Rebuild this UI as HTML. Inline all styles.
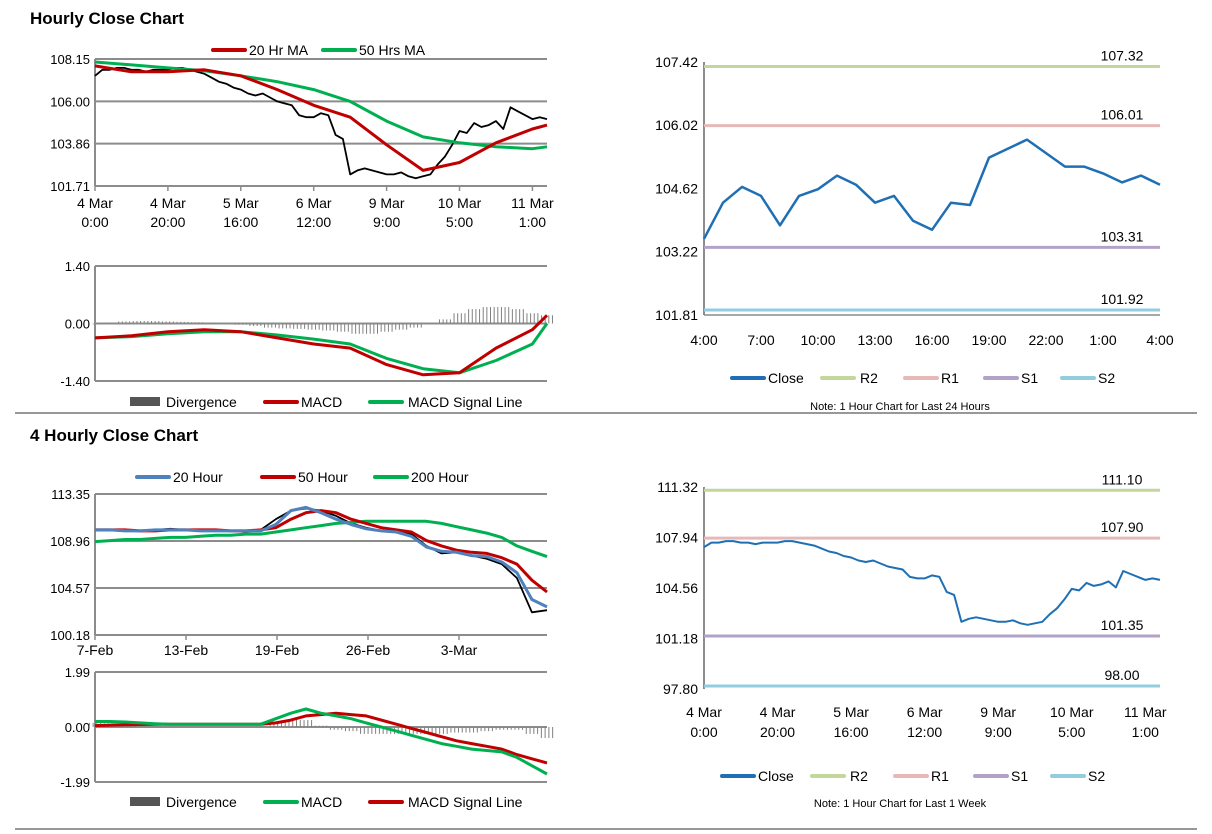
<!DOCTYPE html>
<html><head><meta charset="utf-8"><style>
body{margin:0;background:#fff;}
svg{display:block;font-family:"Liberation Sans",Arial,sans-serif;}
</style></head><body>
<svg id="s" width="1212" height="834" viewBox="0 0 1212 834">
<text x="30" y="24" font-size="17" font-weight="bold">Hourly Close Chart</text>
<text x="30" y="441" font-size="17" font-weight="bold">4 Hourly Close Chart</text>
<line x1="15" y1="413" x2="1197" y2="413" stroke="#777" stroke-width="1.5"/>
<line x1="15" y1="829" x2="1197" y2="829" stroke="#777" stroke-width="1.5"/>
</svg>
<script>
const hCloseVals=[107.3,107.6,107.6,107.7,107.7,107.6,107.6,107.5,107.6,107.6,
107.6,107.7,107.7,107.6,107.5,107.4,107.2,107.0,106.9,106.7,
106.6,106.4,106.3,106.4,106.2,106.0,105.9,105.8,105.3,105.2,
105.2,105.4,105.3,104.3,104.1,102.3,102.5,
102.6,102.5,102.4,102.3,102.3,102.4,102.2,102.1,102.2,102.3,
102.8,103.2,103.8,104.5,104.4,104.9,104.7,104.8,105.0,104.6,105.7,
105.5,105.3,105.1,105.2,105.1];
const hMa20=[107.8,107.5,107.5,107.6,107.3,106.6,105.8,105.2,103.8,102.5,102.9,103.9,104.6,104.8];
const hMa50=[108.0,107.85,107.7,107.55,107.3,107.0,106.6,106.0,105.0,104.2,103.9,103.7,103.6,103.7];
const hTickLabels=[["4 Mar","0:00"],["4 Mar","20:00"],["5 Mar","16:00"],["6 Mar","12:00"],["9 Mar","9:00"],["10 Mar","5:00"],["11 Mar","1:00"]];
const hYTicks=[108.15,106.00,103.86,101.71];
const hMacd=[-0.35,-0.3,-0.2,-0.15,-0.2,-0.35,-0.5,-0.6,-1.0,-1.25,-1.2,-0.6,-0.15,0.2];
const hSignal=[-0.35,-0.32,-0.25,-0.2,-0.2,-0.28,-0.38,-0.5,-0.85,-1.1,-1.2,-0.9,-0.5,0.0];
const hDiv=[-0.02,0.02,0.05,0.06,0.06,0.05,0.04,0.03,0.02,0.0,-0.03,-0.06,-0.1,-0.12,-0.13,-0.15,-0.17,-0.2,-0.25,-0.25,-0.2,-0.15,-0.1,-0.02,0.1,0.25,0.35,0.4,0.4,0.35,0.25,0.2];
const hMacdTicks=[1.40,0.00,-1.40];
const dCloseVals=[103.5,104.3,104.65,104.45,103.8,104.45,104.6,104.9,104.7,104.3,104.45,103.9,103.7,104.3,104.25,105.3,105.5,105.7,105.4,105.1,105.1,104.95,104.75,104.9,104.7];
const dTickLabels=["4:00","7:00","10:00","13:00","16:00","19:00","22:00","1:00","4:00"];
const dYTicks=[107.42,106.02,104.62,103.22,101.81];
const dLevels=[107.32,106.01,103.31,101.92];
const wYTicks=[111.32,107.94,104.56,101.18,97.80];
const wLevels=[111.10,107.90,101.35,98.00];
const fClose=[110.0,110.0,109.9,109.9,110.0,110.1,110.0,109.9,110.0,109.9,109.8,110.0,111.0,111.8,112.0,111.8,111.3,110.6,110.2,109.9,109.8,109.6,108.5,107.8,107.9,107.6,107.3,106.8,105.5,102.3,102.5];
const fMa20=[110.0,110.0,109.9,109.9,110.0,110.0,110.0,109.9,109.9,109.9,109.9,109.9,110.5,111.8,112.1,111.6,111.0,110.5,110.1,109.9,109.8,109.4,108.4,108.0,107.9,107.6,107.5,107.0,106.0,103.5,102.8];
const fMa50=[110.0,110.0,110.0,109.9,109.9,110.0,110.0,110.0,110.0,109.9,109.9,110.0,110.2,111.0,111.6,111.8,111.6,111.0,110.6,110.2,110.0,109.8,109.0,108.5,108.1,107.9,107.8,107.4,106.8,105.3,104.2];
const fMa200=[108.9,109.0,109.1,109.1,109.2,109.3,109.3,109.4,109.5,109.5,109.6,109.6,109.8,110.0,110.2,110.4,110.6,110.7,110.8,110.8,110.8,110.8,110.8,110.6,110.3,110.0,109.7,109.3,108.5,108.0,107.5];
const fTickLabels=["7-Feb","13-Feb","19-Feb","26-Feb","3-Mar"];
const fYTicks=[113.35,108.96,104.57,100.18];
const fMacd=[0.2,0.2,0.18,0.15,0.12,0.1,0.1,0.1,0.1,0.1,0.1,0.1,0.3,0.5,0.65,0.5,0.4,0.3,0.15,0.0,-0.15,-0.3,-0.45,-0.6,-0.7,-0.8,-0.85,-0.9,-1.1,-1.4,-1.7];
const fSignal=[0.05,0.07,0.08,0.09,0.1,0.1,0.1,0.1,0.1,0.1,0.1,0.1,0.15,0.25,0.4,0.45,0.5,0.45,0.4,0.25,0.1,-0.05,-0.2,-0.35,-0.5,-0.6,-0.7,-0.8,-1.0,-1.15,-1.3];
const fMacdTicks=[1.99,0.00,-1.99];

const S=document.getElementById('s');
const NS='http://www.w3.org/2000/svg';
function mk(tag,attrs,name,parent){
  const e=document.createElementNS(NS,tag);
  for(const k in attrs)e.setAttribute(k,attrs[k]);
  
  
  (parent||S).appendChild(e);return e;
}
function txt(x,y,s,name,opts){
  const t=mk('text',Object.assign({x:x,y:y,'font-size':13,fill:'#000'},opts||{}),name);
  t.textContent=s;return t;
}
function lin(min,max,a,b){return v=>a+(v-min)/(max-min)*(b-a);}
function poly(xs,ys,color,w,name){
  let d='';for(let i=0;i<xs.length;i++)d+=(i?'L':'M')+xs[i].toFixed(1)+' '+ys[i].toFixed(1);
  return mk('path',{d:d,fill:'none',stroke:color,'stroke-width':w,'stroke-linejoin':'round'},name);
}
function grid(x0,x1,ticks,ys,name){
  ticks.forEach(t=>{
    mk('line',{x1:x0,x2:x1,y1:ys(t),y2:ys(t),stroke:'#8c8c8c','stroke-width':2},name+'-gridline');
    txt(x0-5,ys(t)+5,t.toFixed(2),name+'-tick-label',{'text-anchor':'end'});
  });
  mk('line',{x1:x0,x2:x0,y1:ys(ticks[0]),y2:ys(ticks[ticks.length-1]),stroke:'#8c8c8c','stroke-width':2},name+'-y-axis');
}
function legend(items,y,name){
  items.forEach(it=>{
    if(it.box) mk('rect',{x:it.x,y:y-5,width:30,height:9,fill:it.c},name+'-swatch');
    else mk('line',{x1:it.x,x2:it.x+32,y1:y,y2:y,stroke:it.c,'stroke-width':4,'stroke-linecap':'round'},name+'-swatch');
    txt(it.x+(it.tx||36),y+5,it.t,name+'-entry',{'font-size':14});
  });
}
function bars(xc,v0,v,ym,step,name){
  for(let k=-1.5;k<=1.5;k+=1){
    mk('rect',{x:xc+k*step-0.5,width:1,y:Math.min(ym(v0),ym(v)),height:Math.abs(ym(v)-ym(v0)),fill:'#808080'},name);
  }
}
const RED='#c00000',GRN='#00b050',BLU='#1f6fb5',LBL='#4f81bd';
const LC=['#c3d69b','#e6b9b8','#b3a2c7','#93cddd'];

(function(){
  const x=lin(0,62,95,547), y=lin(101.71,108.15,186,59);
  grid(95,547,hYTicks,y,'hourly-price');
  hTickLabels.forEach((l,i)=>{const xx=x(i*10);
    mk('line',{x1:xx,x2:xx,y1:186,y2:191,stroke:'#8c8c8c','stroke-width':1.5},'hourly-x-tick');
    txt(xx,208,l[0],'hourly-x-label',{'text-anchor':'middle','font-size':14});
    txt(xx,227,l[1],'hourly-x-label',{'text-anchor':'middle','font-size':14});});
  poly(hCloseVals.map((v,i)=>x(i)),hCloseVals.map(v=>y(v)),'#000',1.8,'hourly-close-line');
  const mi=hMa20.map((v,i)=>Math.min(i*5,62));
  poly(mi.map(x),hMa50.map(y),GRN,3,'hourly-ma50-line');
  poly(mi.map(x),hMa20.map(y),RED,3,'hourly-ma20-line');
  legend([{x:213,c:RED,t:'20 Hr MA'},{x:323,c:GRN,t:'50 Hrs MA'}],50,'hourly-legend');
  const ym=lin(-1.4,1.4,381,266);
  grid(95,547,hMacdTicks,ym,'hourly-macd');
  const st=452/31;
  hDiv.forEach((v,i)=>bars(95+i*st,0,v,ym,st/4,'hourly-divergence-bar'));
  poly(mi.map(x),hSignal.map(ym),GRN,3,'hourly-signal-line');
  poly(mi.map(x),hMacd.map(ym),RED,3,'hourly-macd-line');
  legend([{x:130,c:'#555',t:'Divergence',box:1},{x:265,c:RED,t:'MACD'},{x:370,c:GRN,t:'MACD Signal Line',tx:38}],402,'hourly-macd-legend');
})();

(function(){
  const x=lin(0,24,704,1160), y=lin(101.81,107.42,315,62);
  dYTicks.forEach(t=>txt(698,y(t)+5,t.toFixed(2),'day-tick-label',{'text-anchor':'end','font-size':14}));
  mk('line',{x1:704,x2:704,y1:62,y2:315,stroke:'#8c8c8c','stroke-width':2},'day-y-axis');
  mk('line',{x1:704,x2:1160,y1:315,y2:315,stroke:'#8c8c8c','stroke-width':1.5},'day-x-axis');
  dLevels.forEach((v,i)=>{
    mk('line',{x1:704,x2:1160,y1:y(v),y2:y(v),stroke:LC[i],'stroke-width':3},'day-level-line');
    txt(1122,y(v)-6,v.toFixed(2),'day-level-label',{'text-anchor':'middle','font-size':14});});
  dTickLabels.forEach((l,i)=>txt(x(i*3),345,l,'day-x-label',{'text-anchor':'middle','font-size':14}));
  poly(dCloseVals.map((v,i)=>x(i)),dCloseVals.map(y),BLU,2.5,'day-close-line');
  legend([{x:732,c:BLU,t:'Close'},{x:822,c:LC[0],t:'R2',tx:38},{x:905,c:LC[1],t:'R1'},{x:985,c:LC[2],t:'S1'},{x:1062,c:LC[3],t:'S2'}],378,'day-legend');
  txt(900,410,'Note: 1 Hour Chart for Last 24 Hours','day-note',{'text-anchor':'middle','font-size':11});
})();

(function(){
  const x=lin(0,62,704,1160), y=lin(97.80,111.32,689,487);
  wYTicks.forEach(t=>txt(698,y(t)+5,t.toFixed(2),'week-tick-label',{'text-anchor':'end','font-size':14}));
  mk('line',{x1:704,x2:704,y1:487,y2:689,stroke:'#8c8c8c','stroke-width':2},'week-y-axis');
  wLevels.forEach((v,i)=>{
    mk('line',{x1:704,x2:1160,y1:y(v),y2:y(v),stroke:LC[i],'stroke-width':3},'week-level-line');
    txt(1122,y(v)-6,v.toFixed(2),'week-level-label',{'text-anchor':'middle','font-size':14});});
  hTickLabels.forEach((l,i)=>{const xx=x(i*10);
    txt(xx,717,l[0],'week-x-label',{'text-anchor':'middle','font-size':14});
    txt(xx,737,l[1],'week-x-label',{'text-anchor':'middle','font-size':14});});
  poly(hCloseVals.map((v,i)=>x(i)),hCloseVals.map(y),BLU,2,'week-close-line');
  legend([{x:722,c:BLU,t:'Close'},{x:812,c:LC[0],t:'R2',tx:38},{x:895,c:LC[1],t:'R1'},{x:975,c:LC[2],t:'S1'},{x:1052,c:LC[3],t:'S2'}],776,'week-legend');
  txt(900,807,'Note: 1 Hour Chart for Last 1 Week','week-note',{'text-anchor':'middle','font-size':11});
})();

(function(){
  const x=lin(0,30,95,547), y=lin(100.18,113.35,635,494);
  grid(95,547,fYTicks,y,'four-price');
  fTickLabels.forEach((l,i)=>{const xx=95+i*91;
    mk('line',{x1:xx,x2:xx,y1:635,y2:640,stroke:'#8c8c8c','stroke-width':1.5},'four-x-tick');
    txt(xx,655,l,'four-x-label',{'text-anchor':'middle','font-size':14});});
  poly(fClose.map((v,i)=>x(i)),fClose.map(y),'#000',1.8,'four-close-line');
  poly(fMa200.map((v,i)=>x(i)),fMa200.map(y),GRN,3,'four-ma200-line');
  poly(fMa50.map((v,i)=>x(i)),fMa50.map(y),RED,3,'four-ma50-line');
  poly(fMa20.map((v,i)=>x(i)),fMa20.map(y),LBL,3,'four-ma20-line');
  legend([{x:137,c:LBL,t:'20 Hour'},{x:262,c:RED,t:'50 Hour'},{x:375,c:GRN,t:'200 Hour'}],477,'four-legend');
  const ym=lin(-1.99,1.99,782,672);
  grid(95,547,fMacdTicks,ym,'four-macd');
  const st=452/30;
  fMacd.forEach((v,i)=>bars(x(i),0,v-fSignal[i],ym,st/4,'four-divergence-bar'));
  poly(fSignal.map((v,i)=>x(i)),fSignal.map(ym),RED,3,'four-signal-line');
  poly(fMacd.map((v,i)=>x(i)),fMacd.map(ym),GRN,3,'four-macd-line');
  legend([{x:130,c:'#555',t:'Divergence',box:1},{x:265,c:GRN,t:'MACD'},{x:370,c:RED,t:'MACD Signal Line',tx:38}],802,'four-macd-legend');
})();
</script>
</body></html>
